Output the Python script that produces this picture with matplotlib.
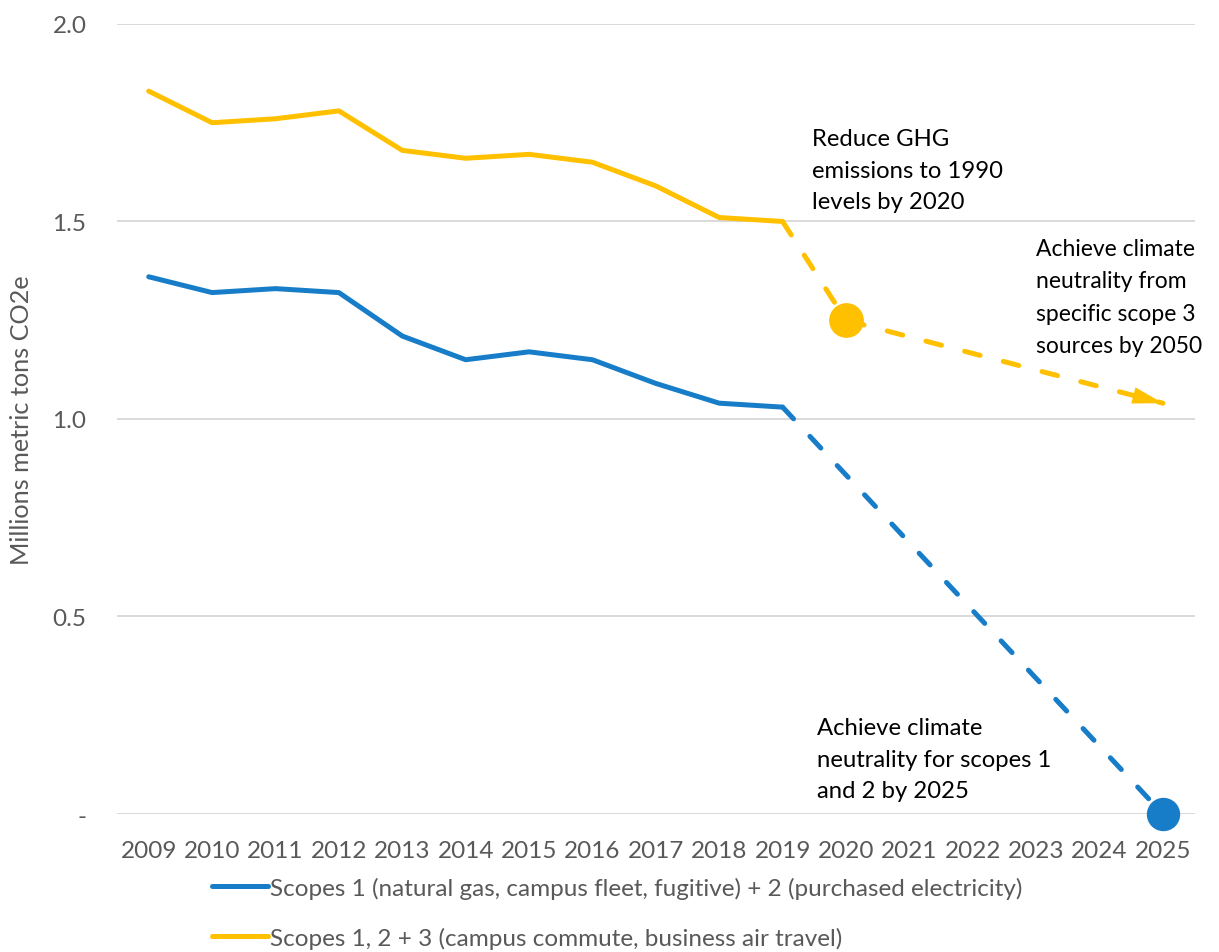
import matplotlib
matplotlib.use("Agg")
import matplotlib.pyplot as plt
from matplotlib.lines import Line2D

plt.rcParams['font.family'] = ['Lato', 'DejaVu Sans']

years = [str(y) for y in range(2009, 2026)]

# actual emissions, 2009-2019
scope12 = [1.36, 1.32, 1.33, 1.32, 1.21, 1.15, 1.17, 1.15, 1.09, 1.04, 1.03]
scope123 = [1.83, 1.75, 1.76, 1.78, 1.68, 1.66, 1.67, 1.65, 1.59, 1.51, 1.50]

# targets
scope12_target_year = 2025
scope12_target = 0.0
scope123_goal_years = [2020, 2025]
scope123_goals = [1.25, 1.04]

yticks = [0.0, 0.5, 1.0, 1.5, 2.0]
ytick_labels = ['-', '0.5', '1.0', '1.5', '2.0']

legend_labels = [
    'Scopes 1 (natural gas, campus fleet, fugitive) + 2 (purchased electricity)',
    'Scopes 1, 2 + 3 (campus commute, business air travel)',
]

BLUE = '#177DC8'
YELLOW = '#FFC000'
GRAY = '#595959'

def idx(year):
    return years.index(str(year))

fig = plt.figure(figsize=(12.19, 9.53), dpi=100)
ax = fig.add_axes([0.096, 0.1448, 0.884, 0.829])

lw = 3.6
dash = (0, (3.2, 4.8))
n = len(scope12)
hist_x = list(range(n))

# solid history lines
ax.plot(hist_x, scope123, color=YELLOW, lw=lw, solid_capstyle='round',
        solid_joinstyle='round', clip_on=False, zorder=3)
ax.plot(hist_x, scope12, color=BLUE, lw=lw, solid_capstyle='round',
        solid_joinstyle='round', clip_on=False, zorder=3)

# dashed projections
bx = [n - 1, idx(scope12_target_year)]
by = [scope12[-1], scope12_target]
ax.plot(bx, by, color=BLUE, lw=lw, linestyle=dash, dash_capstyle='round',
        clip_on=False, zorder=3)
ax.plot(bx[-1], by[-1], 'o', color=BLUE, ms=23, clip_on=False, zorder=4)

gx = [n - 1] + [idx(y) for y in scope123_goal_years]
gy = [scope123[-1]] + scope123_goals
ax.plot(gx, gy, color=YELLOW, lw=lw, linestyle=dash, dash_capstyle='round',
        clip_on=False, zorder=3)
ax.plot(gx[1], gy[1], 'o', color=YELLOW, ms=24, clip_on=False, zorder=4)

# arrowhead at the end of the 2050 target line
t = 0.85
ax.annotate('', xy=(gx[-1], gy[-1]),
            xytext=(gx[-2] + t * (gx[-1] - gx[-2]), gy[-2] + t * (gy[-1] - gy[-2])),
            arrowprops=dict(arrowstyle='-|>,head_length=2.2,head_width=0.6',
                            color=YELLOW, lw=0, shrinkA=0, shrinkB=0),
            annotation_clip=False, zorder=4)

# annotations
note_kw = dict(fontsize=17.2, color='black', va='center', ha='left', linespacing=1.6)
ax.text(10.47, 1.630, 'Reduce GHG\nemissions to 1990\nlevels by 2020', **note_kw)
ax.text(14.0, 1.309, 'Achieve climate\nneutrality from\nspecific scope 3\nsources by 2050',
        **dict(note_kw, fontsize=16.5, linespacing=1.66))
ax.text(10.55, 0.139, 'Achieve climate\nneutrality for scopes 1\nand 2 by 2025', **note_kw)

ax.set_xlim(-0.5, len(years) - 0.5)
ax.set_ylim(0, 2.0)
ax.set_xticks(range(len(years)))
ax.set_xticklabels(years)
ax.set_yticks(yticks)
ax.set_yticklabels(ytick_labels)
ax.tick_params(axis='both', length=0, labelsize=17.5, labelcolor=GRAY)
ax.tick_params(axis='x', pad=19)
ax.tick_params(axis='y', pad=22)
ax.grid(axis='y', color='#D9D9D9', lw=1.4)
ax.set_axisbelow(True)
for s in ax.spines.values():
    s.set_visible(False)
ax.set_ylabel('Millions metric tons CO2e', fontsize=18.2, color=GRAY, labelpad=14)

handles = [Line2D([], [], color=BLUE, lw=lw, solid_capstyle='round'),
           Line2D([], [], color=YELLOW, lw=lw, solid_capstyle='round')]
fig.legend(handles, legend_labels, loc='upper left', bbox_to_anchor=(0.174, 0.079),
           frameon=False, fontsize=17.5, labelcolor=GRAY, handlelength=2.3,
           handletextpad=0.08, labelspacing=1.15, borderaxespad=0, borderpad=0)

fig.savefig('out.png', dpi=100, facecolor='white')
